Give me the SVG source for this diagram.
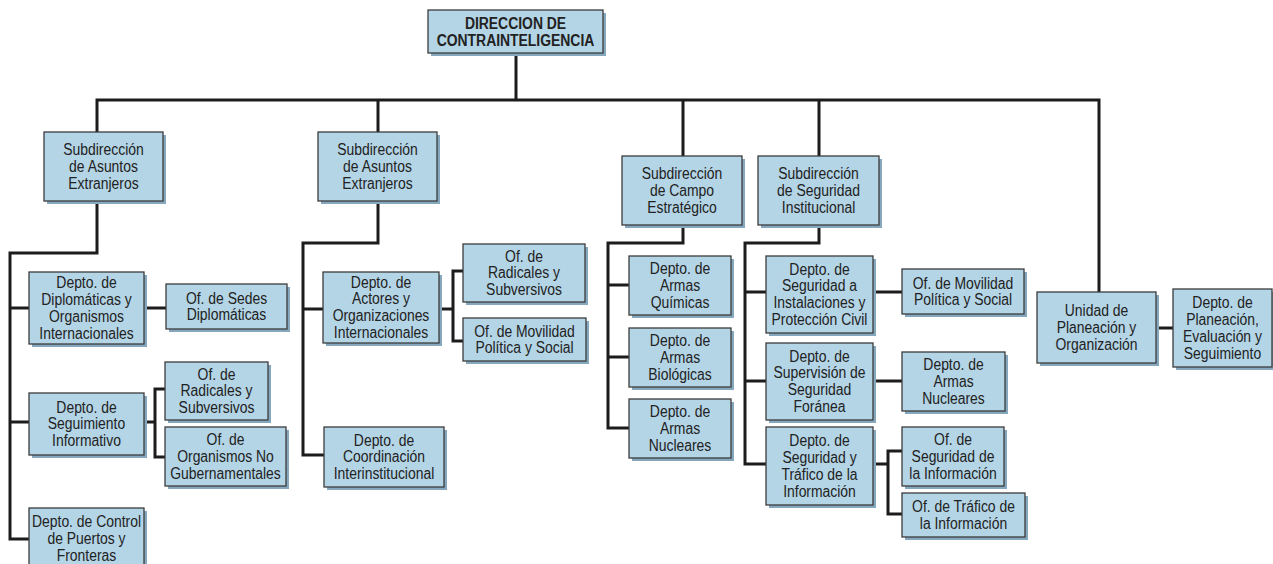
<svg xmlns="http://www.w3.org/2000/svg" width="1273" height="564" viewBox="0 0 1273 564">
<style>
.box{fill:#b4d5e6;stroke:#3c3c3c;stroke-width:1.3}
.sh{fill:#86a8bf}
.t{font-family:"Liberation Sans",Arial,sans-serif;font-size:16px;fill:#222;text-anchor:middle}
.b{font-weight:bold}
.c{fill:none;stroke:#1c1c1c;stroke-width:3;stroke-linejoin:miter;stroke-linecap:square}
</style>
<rect width="1273" height="564" fill="#fff"/>
<g id="connectors">
<path class="c" d="M516,53V100M97,100H1099M97,100V132M378,100V132M683,100V156M819,100V156M1099,100V292"/>
<path class="c" d="M97,201V253H10V539H29M10,308H29M10,422H29M144,308H166M144,422H155M165,389H155V457H165"/>
<path class="c" d="M378,201V243H303V455H324M303,309H323M439,309H453M463,271H453V341H463"/>
<path class="c" d="M683,225V243H608V428H629M608,285H629M608,357H629"/>
<path class="c" d="M819,225V243H745V464H766M745,292H766M745,381H766M873,292H902M873,381H902M873,464H888M902,451H888V514H902"/>
<path class="c" d="M1156,328H1173"/>
</g>
<g id="n_top"><rect class="sh" x="431" y="13" width="175" height="43"/><rect class="box" x="428" y="10" width="175" height="43"/><text class="t b" transform="translate(515.5,29) scale(0.87,1)"><tspan x="0" y="0">DIRECCION DE</tspan><tspan x="0" y="17">CONTRAINTELIGENCIA</tspan></text></g>
<g id="n_sub1"><rect class="sh" x="47" y="135" width="119" height="69"/><rect class="box" x="44" y="132" width="119" height="69"/><text class="t" transform="translate(103.5,155) scale(0.87,1)"><tspan x="0" y="0">Subdirección</tspan><tspan x="0" y="17">de Asuntos</tspan><tspan x="0" y="34">Extranjeros</tspan></text></g>
<g id="n_sub2"><rect class="sh" x="321" y="135" width="119" height="69"/><rect class="box" x="318" y="132" width="119" height="69"/><text class="t" transform="translate(377.5,155) scale(0.87,1)"><tspan x="0" y="0">Subdirección</tspan><tspan x="0" y="17">de Asuntos</tspan><tspan x="0" y="34">Extranjeros</tspan></text></g>
<g id="n_sub3"><rect class="sh" x="625" y="159" width="120" height="69"/><rect class="box" x="622" y="156" width="120" height="69"/><text class="t" transform="translate(682,179) scale(0.87,1)"><tspan x="0" y="0">Subdirección</tspan><tspan x="0" y="17">de Campo</tspan><tspan x="0" y="34">Estratégico</tspan></text></g>
<g id="n_sub4"><rect class="sh" x="761" y="159" width="121" height="69"/><rect class="box" x="758" y="156" width="121" height="69"/><text class="t" transform="translate(818.5,179) scale(0.87,1)"><tspan x="0" y="0">Subdirección</tspan><tspan x="0" y="17">de Seguridad</tspan><tspan x="0" y="34">Institucional</tspan></text></g>
<g id="n_unidad"><rect class="sh" x="1040" y="295" width="119" height="71"/><rect class="box" x="1037" y="292" width="119" height="71"/><text class="t" transform="translate(1096.5,316) scale(0.87,1)"><tspan x="0" y="0">Unidad de</tspan><tspan x="0" y="17">Planeación y</tspan><tspan x="0" y="34">Organización</tspan></text></g>
<g id="n_plan"><rect class="sh" x="1176" y="292" width="99" height="78"/><rect class="box" x="1173" y="289" width="99" height="78"/><text class="t" transform="translate(1222.5,308) scale(0.87,1)"><tspan x="0" y="0">Depto. de</tspan><tspan x="0" y="17">Planeación,</tspan><tspan x="0" y="34">Evaluación y</tspan><tspan x="0" y="51">Seguimiento</tspan></text></g>
<g id="n_dipl"><rect class="sh" x="32" y="275" width="115" height="72"/><rect class="box" x="29" y="272" width="115" height="72"/><text class="t" transform="translate(86.5,288) scale(0.87,1)"><tspan x="0" y="0">Depto. de</tspan><tspan x="0" y="17">Diplomáticas y</tspan><tspan x="0" y="34">Organismos</tspan><tspan x="0" y="51">Internacionales</tspan></text></g>
<g id="n_sedes"><rect class="sh" x="169" y="287" width="121" height="45"/><rect class="box" x="166" y="284" width="121" height="45"/><text class="t" transform="translate(226.5,303.5) scale(0.87,1)"><tspan x="0" y="0">Of. de Sedes</tspan><tspan x="0" y="17">Diplomáticas</tspan></text></g>
<g id="n_seg"><rect class="sh" x="32" y="396" width="115" height="62"/><rect class="box" x="29" y="393" width="115" height="62"/><text class="t" transform="translate(86.5,412.5) scale(0.87,1)"><tspan x="0" y="0">Depto. de</tspan><tspan x="0" y="17">Seguimiento</tspan><tspan x="0" y="34">Informativo</tspan></text></g>
<g id="n_rad1"><rect class="sh" x="168" y="365" width="103" height="58"/><rect class="box" x="165" y="362" width="103" height="58"/><text class="t" transform="translate(216.5,379.5) scale(0.87,1)"><tspan x="0" y="0">Of. de</tspan><tspan x="0" y="17">Radicales y</tspan><tspan x="0" y="34">Subversivos</tspan></text></g>
<g id="n_ong"><rect class="sh" x="168" y="430" width="121" height="59"/><rect class="box" x="165" y="427" width="121" height="59"/><text class="t" transform="translate(225.5,445) scale(0.87,1)"><tspan x="0" y="0">Of. de</tspan><tspan x="0" y="17">Organismos No</tspan><tspan x="0" y="34">Gubernamentales</tspan></text></g>
<g id="n_ctrl"><rect class="sh" x="32" y="511" width="115" height="68"/><rect class="box" x="29" y="508" width="115" height="68"/><text class="t" transform="translate(86.5,527) scale(0.87,1)"><tspan x="0" y="0">Depto. de Control</tspan><tspan x="0" y="17">de Puertos y</tspan><tspan x="0" y="34">Fronteras</tspan></text></g>
<g id="n_act"><rect class="sh" x="326" y="275" width="116" height="71"/><rect class="box" x="323" y="272" width="116" height="71"/><text class="t" transform="translate(381,287.5) scale(0.87,1)"><tspan x="0" y="0">Depto. de</tspan><tspan x="0" y="17">Actores y</tspan><tspan x="0" y="34">Organizaciones</tspan><tspan x="0" y="51">Internacionales</tspan></text></g>
<g id="n_rad2"><rect class="sh" x="466" y="247" width="122" height="58"/><rect class="box" x="463" y="244" width="122" height="58"/><text class="t" transform="translate(524,261.5) scale(0.87,1)"><tspan x="0" y="0">Of. de</tspan><tspan x="0" y="17">Radicales y</tspan><tspan x="0" y="34">Subversivos</tspan></text></g>
<g id="n_mov1"><rect class="sh" x="466" y="321" width="123" height="43"/><rect class="box" x="463" y="318" width="123" height="43"/><text class="t" transform="translate(524.5,336.5) scale(0.87,1)"><tspan x="0" y="0">Of. de Movilidad</tspan><tspan x="0" y="17">Política y Social</tspan></text></g>
<g id="n_coord"><rect class="sh" x="327" y="430" width="120" height="60"/><rect class="box" x="324" y="427" width="120" height="60"/><text class="t" transform="translate(384,445.5) scale(0.87,1)"><tspan x="0" y="0">Depto. de</tspan><tspan x="0" y="17">Coordinación</tspan><tspan x="0" y="34">Interinstitucional</tspan></text></g>
<g id="n_quim"><rect class="sh" x="632" y="259" width="102" height="59"/><rect class="box" x="629" y="256" width="102" height="59"/><text class="t" transform="translate(680,274) scale(0.87,1)"><tspan x="0" y="0">Depto. de</tspan><tspan x="0" y="17">Armas</tspan><tspan x="0" y="34">Químicas</tspan></text></g>
<g id="n_bio"><rect class="sh" x="632" y="331" width="102" height="59"/><rect class="box" x="629" y="328" width="102" height="59"/><text class="t" transform="translate(680,346) scale(0.87,1)"><tspan x="0" y="0">Depto. de</tspan><tspan x="0" y="17">Armas</tspan><tspan x="0" y="34">Biológicas</tspan></text></g>
<g id="n_nuc1"><rect class="sh" x="632" y="402" width="102" height="59"/><rect class="box" x="629" y="399" width="102" height="59"/><text class="t" transform="translate(680,417) scale(0.87,1)"><tspan x="0" y="0">Depto. de</tspan><tspan x="0" y="17">Armas</tspan><tspan x="0" y="34">Nucleares</tspan></text></g>
<g id="n_inst"><rect class="sh" x="769" y="259" width="107" height="77"/><rect class="box" x="766" y="256" width="107" height="77"/><text class="t" transform="translate(819.5,274.5) scale(0.87,1)"><tspan x="0" y="0">Depto. de</tspan><tspan x="0" y="17">Seguridad a</tspan><tspan x="0" y="34">Instalaciones y</tspan><tspan x="0" y="51">Protección Civil</tspan></text></g>
<g id="n_mov2"><rect class="sh" x="905" y="272" width="122" height="45"/><rect class="box" x="902" y="269" width="122" height="45"/><text class="t" transform="translate(963,288.5) scale(0.87,1)"><tspan x="0" y="0">Of. de Movilidad</tspan><tspan x="0" y="17">Política y Social</tspan></text></g>
<g id="n_sup"><rect class="sh" x="769" y="346" width="107" height="77"/><rect class="box" x="766" y="343" width="107" height="77"/><text class="t" transform="translate(819.5,361.5) scale(0.87,1)"><tspan x="0" y="0">Depto. de</tspan><tspan x="0" y="17">Supervisión de</tspan><tspan x="0" y="34">Seguridad</tspan><tspan x="0" y="51">Foránea</tspan></text></g>
<g id="n_nuc2"><rect class="sh" x="905" y="355" width="103" height="59"/><rect class="box" x="902" y="352" width="103" height="59"/><text class="t" transform="translate(953.5,370) scale(0.87,1)"><tspan x="0" y="0">Depto. de</tspan><tspan x="0" y="17">Armas</tspan><tspan x="0" y="34">Nucleares</tspan></text></g>
<g id="n_traf"><rect class="sh" x="769" y="430" width="107" height="78"/><rect class="box" x="766" y="427" width="107" height="78"/><text class="t" transform="translate(819.5,446) scale(0.87,1)"><tspan x="0" y="0">Depto. de</tspan><tspan x="0" y="17">Seguridad y</tspan><tspan x="0" y="34">Tráfico de la</tspan><tspan x="0" y="51">Información</tspan></text></g>
<g id="n_seginf"><rect class="sh" x="905" y="430" width="102" height="59"/><rect class="box" x="902" y="427" width="102" height="59"/><text class="t" transform="translate(953,445) scale(0.87,1)"><tspan x="0" y="0">Of. de</tspan><tspan x="0" y="17">Seguridad de</tspan><tspan x="0" y="34">la Información</tspan></text></g>
<g id="n_oftraf"><rect class="sh" x="905" y="496" width="123" height="44"/><rect class="box" x="902" y="493" width="123" height="44"/><text class="t" transform="translate(963.5,512) scale(0.87,1)"><tspan x="0" y="0">Of. de Tráfico de</tspan><tspan x="0" y="17">la Información</tspan></text></g>
</svg>
